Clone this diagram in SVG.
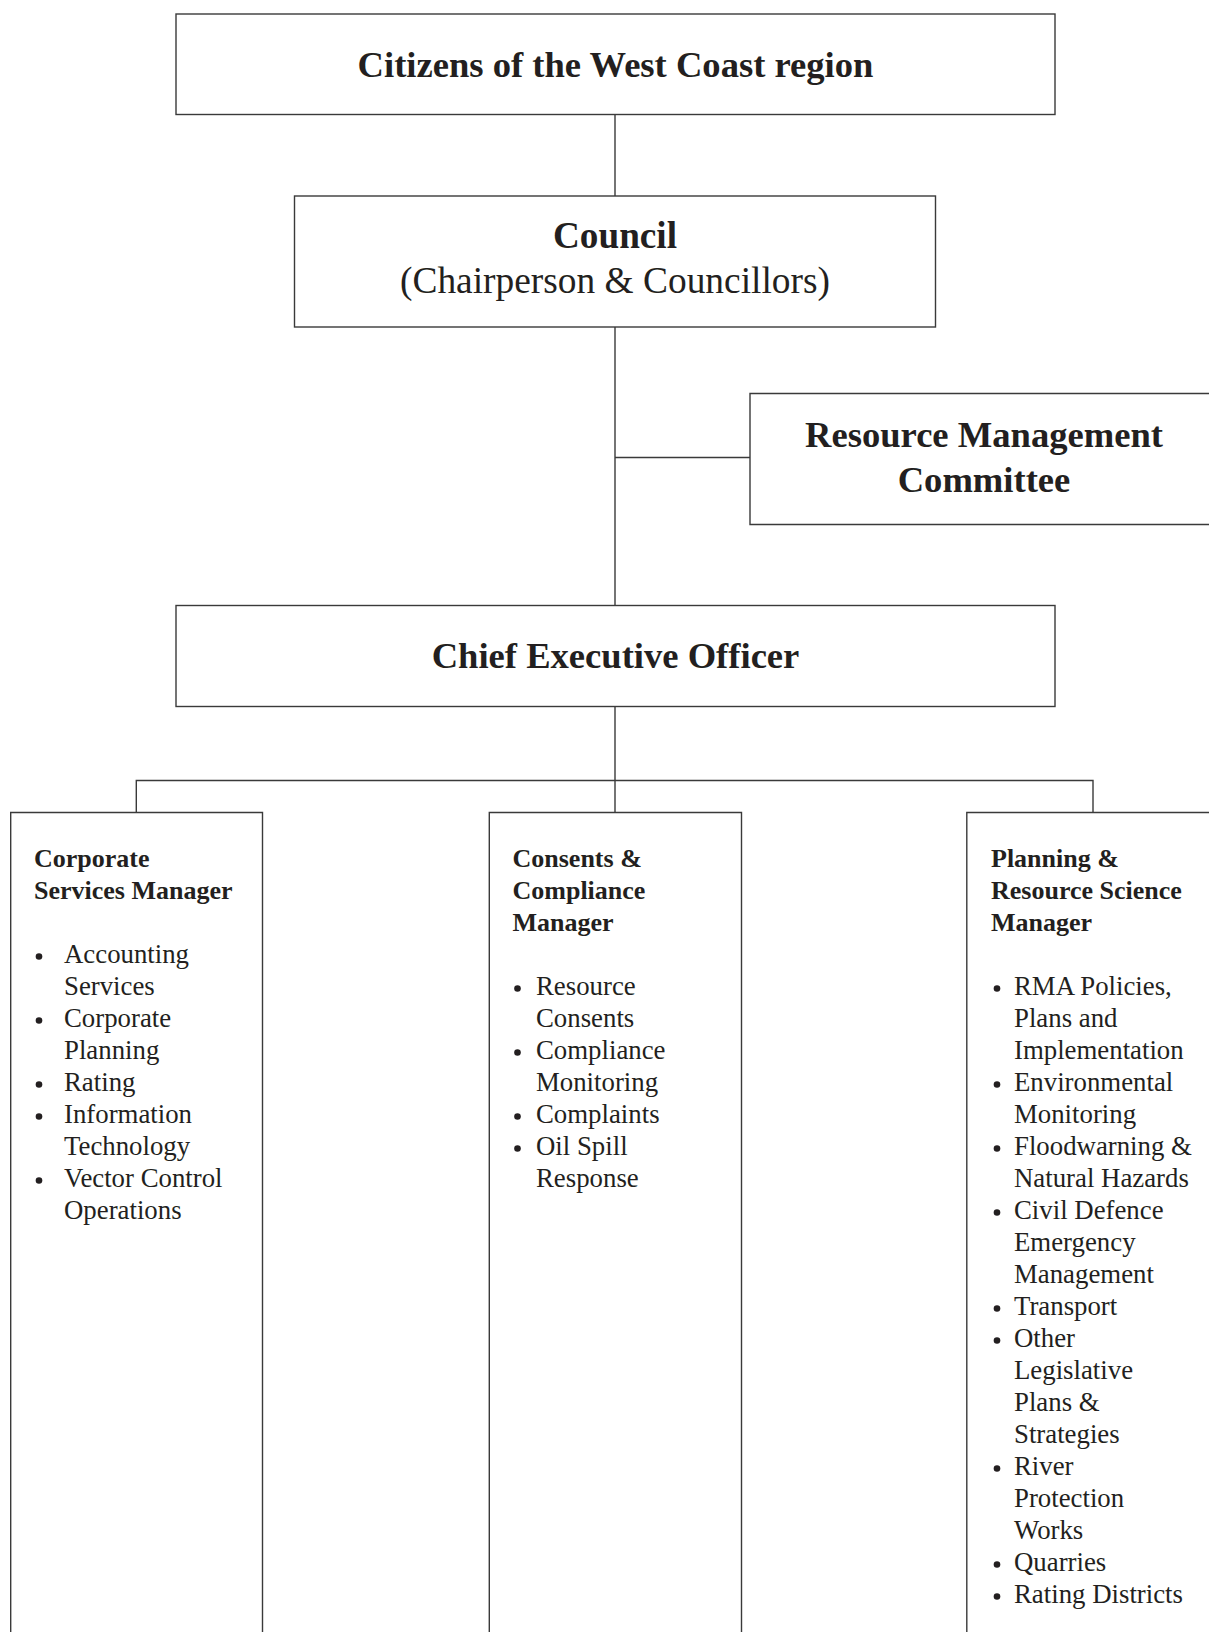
<svg xmlns="http://www.w3.org/2000/svg" width="1209" height="1632" viewBox="0 0 1209 1632">
<style>
.box{fill:#fff;stroke:#3a3a3a;stroke-width:1.4}
.ln{fill:none;stroke:#3a3a3a;stroke-width:1.4}
.t{font-family:"Liberation Serif","Times New Roman",serif;fill:#231f20}
.big{font-size:36.6px;font-weight:bold;text-anchor:middle}
.bigr{font-size:37.4px;text-anchor:middle}
.h{font-size:26px;font-weight:bold}
.i{font-size:26.8px}
.d{fill:#231f20}
</style>
<defs><circle id="dot" r="3.3"/></defs>
<rect width="1209" height="1632" fill="#fff"/>
<g id="connectors">
<line class="ln" x1="615" y1="114.5" x2="615" y2="196"/>
<line class="ln" x1="615" y1="327" x2="615" y2="605.5"/>
<line class="ln" x1="615" y1="457.5" x2="750" y2="457.5"/>
<line class="ln" x1="615" y1="706.5" x2="615" y2="812.5"/>
<polyline class="ln" points="136.3,812.5 136.3,780.5 1093,780.5 1093,812.5"/>
</g>
<g id="citizens">
<rect class="box" x="176" y="14" width="879" height="100.5"/>
<text class="t big" x="615.5" y="77">Citizens of the West Coast region</text>
</g>
<g id="council">
<rect class="box" x="294.5" y="196" width="641" height="131"/>
<text class="t big" x="615" y="248" style="font-size:37.2px">Council</text>
<text class="t bigr" x="615" y="293">(Chairperson &amp; Councillors)</text>
</g>
<g id="rmc">
<path class="box" d="M1215,393.5 H750 V524.5 H1215"/>
<text class="t big" x="984" y="447">Resource Management</text>
<text class="t big" x="984" y="491.5">Committee</text>
</g>
<g id="ceo">
<rect class="box" x="176" y="605.5" width="879" height="101"/>
<text class="t big" x="615.5" y="668">Chief Executive Officer</text>
</g>
<g id="corporate">
<path class="box" d="M10.7,1640 V812.5 H262.5 V1640"/>
<text class="t h" x="34" y="866.5">Corporate</text>
<text class="t h" x="34" y="898.5">Services Manager</text>
<g class="d">
<use href="#dot" x="39" y="956.5"/>
<use href="#dot" x="39" y="1020.5"/>
<use href="#dot" x="39" y="1084.5"/>
<use href="#dot" x="39" y="1116.5"/>
<use href="#dot" x="39" y="1180.5"/>
</g>
<text class="t i" x="64" y="963">Accounting</text>
<text class="t i" x="64" y="995">Services</text>
<text class="t i" x="64" y="1027">Corporate</text>
<text class="t i" x="64" y="1059">Planning</text>
<text class="t i" x="64" y="1091">Rating</text>
<text class="t i" x="64" y="1123">Information</text>
<text class="t i" x="64" y="1155">Technology</text>
<text class="t i" x="64" y="1187">Vector Control</text>
<text class="t i" x="64" y="1219">Operations</text>
</g>
<g id="consents">
<path class="box" d="M489.3,1640 V812.5 H741.5 V1640"/>
<text class="t h" x="512.5" y="866.5">Consents &amp;</text>
<text class="t h" x="512.5" y="898.5">Compliance</text>
<text class="t h" x="512.5" y="930.5">Manager</text>
<g class="d">
<use href="#dot" x="517.5" y="988.5"/>
<use href="#dot" x="517.5" y="1052.5"/>
<use href="#dot" x="517.5" y="1116.5"/>
<use href="#dot" x="517.5" y="1148.5"/>
</g>
<text class="t i" x="536" y="995">Resource</text>
<text class="t i" x="536" y="1027">Consents</text>
<text class="t i" x="536" y="1059">Compliance</text>
<text class="t i" x="536" y="1091">Monitoring</text>
<text class="t i" x="536" y="1123">Complaints</text>
<text class="t i" x="536" y="1155">Oil Spill</text>
<text class="t i" x="536" y="1187">Response</text>
</g>
<g id="planning">
<path class="box" d="M1215,812.5 H966.8 V1640"/>
<text class="t h" x="991" y="866.5">Planning &amp;</text>
<text class="t h" x="991" y="898.5">Resource Science</text>
<text class="t h" x="991" y="930.5">Manager</text>
<g class="d">
<use href="#dot" x="997" y="988.5"/>
<use href="#dot" x="997" y="1084.5"/>
<use href="#dot" x="997" y="1148.5"/>
<use href="#dot" x="997" y="1212.5"/>
<use href="#dot" x="997" y="1308.5"/>
<use href="#dot" x="997" y="1340.5"/>
<use href="#dot" x="997" y="1468.5"/>
<use href="#dot" x="997" y="1564.5"/>
<use href="#dot" x="997" y="1596.5"/>
</g>
<text class="t i" x="1014" y="995">RMA Policies,</text>
<text class="t i" x="1014" y="1027">Plans and</text>
<text class="t i" x="1014" y="1059">Implementation</text>
<text class="t i" x="1014" y="1091">Environmental</text>
<text class="t i" x="1014" y="1123">Monitoring</text>
<text class="t i" x="1014" y="1155">Floodwarning &amp;</text>
<text class="t i" x="1014" y="1187">Natural Hazards</text>
<text class="t i" x="1014" y="1219">Civil Defence</text>
<text class="t i" x="1014" y="1251">Emergency</text>
<text class="t i" x="1014" y="1283">Management</text>
<text class="t i" x="1014" y="1315">Transport</text>
<text class="t i" x="1014" y="1347">Other</text>
<text class="t i" x="1014" y="1379">Legislative</text>
<text class="t i" x="1014" y="1411">Plans &amp;</text>
<text class="t i" x="1014" y="1443">Strategies</text>
<text class="t i" x="1014" y="1475">River</text>
<text class="t i" x="1014" y="1507">Protection</text>
<text class="t i" x="1014" y="1539">Works</text>
<text class="t i" x="1014" y="1571">Quarries</text>
<text class="t i" x="1014" y="1603">Rating Districts</text>
</g>
</svg>
